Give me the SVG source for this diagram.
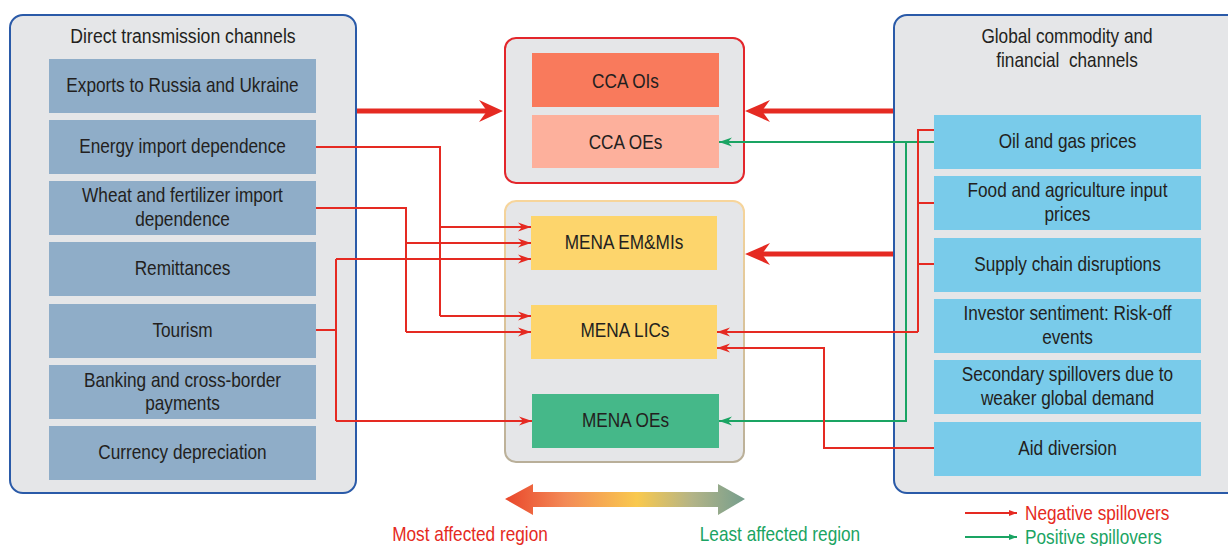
<svg xmlns="http://www.w3.org/2000/svg" width="1228" height="546" viewBox="0 0 1228 546">
<defs>
<style>
text{font-family:'Liberation Sans',Arial,sans-serif;font-size:21px;fill:#231f20;text-anchor:middle}
.panel{fill:#e5e6e8;stroke:#2a5aa8;stroke-width:2}
.lbox{fill:#8fadc8}
.rbox{fill:#79cbea}
.neg{fill:none;stroke:#e52a22;stroke-width:2}
.pos{fill:none;stroke:#1aa463;stroke-width:2}
.big{fill:none;stroke:#e52a22;stroke-width:5}
.head{fill:#e52a22}
.ar{marker-end:url(#ahr)}
.ag{marker-end:url(#ahg)}
.lr{marker-end:url(#lhr)}
.lg{marker-end:url(#lhg)}
</style>
<marker id="ahr" viewBox="0 0 13 10" refX="13" refY="5" markerWidth="13" markerHeight="10" markerUnits="userSpaceOnUse" orient="auto"><path d="M0,0.5 L13,5 L0,9.5 L4,5 Z" fill="#e52a22"/></marker>
<marker id="ahg" viewBox="0 0 13 10" refX="13" refY="5" markerWidth="13" markerHeight="10" markerUnits="userSpaceOnUse" orient="auto"><path d="M0,0.5 L13,5 L0,9.5 L4,5 Z" fill="#1aa463"/></marker>
<marker id="lhr" viewBox="0 0 8 6" refX="8" refY="3" markerWidth="8" markerHeight="6" markerUnits="userSpaceOnUse" orient="auto"><path d="M0,0 L8,3 L0,6 Z" fill="#e52a22"/></marker>
<marker id="lhg" viewBox="0 0 8 6" refX="8" refY="3" markerWidth="8" markerHeight="6" markerUnits="userSpaceOnUse" orient="auto"><path d="M0,0 L8,3 L0,6 Z" fill="#1aa463"/></marker>
<linearGradient id="menaStroke" x1="0" y1="0" x2="0" y2="1"><stop offset="0" stop-color="#f7d59b"/><stop offset="1" stop-color="#b9af99"/></linearGradient>
<linearGradient id="scale" gradientUnits="userSpaceOnUse" x1="505" y1="0" x2="745" y2="0"><stop offset="0" stop-color="#e9462a"/><stop offset="0.25" stop-color="#f38a57"/><stop offset="0.55" stop-color="#f9c94e"/><stop offset="0.78" stop-color="#b3b487"/><stop offset="1" stop-color="#769e8d"/></linearGradient>
</defs>
<rect width="1228" height="546" fill="#ffffff"/>

<g id="left-panel">
<rect class="panel" x="10" y="15" width="346" height="478" rx="13"/>
<text transform="translate(183,43) scale(0.84,1)">Direct transmission channels</text>
</g>
<g id="exports"><rect class="lbox" x="49" y="59" width="267" height="54"/><text transform="translate(182.5,92) scale(0.82,1)">Exports to Russia and Ukraine</text></g>
<g id="energy"><rect class="lbox" x="49" y="120" width="267" height="54"/><text transform="translate(182.5,153) scale(0.82,1)">Energy import dependence</text></g>
<g id="wheat"><rect class="lbox" x="49" y="181" width="267" height="54"/><text transform="translate(182.5,202) scale(0.82,1)">Wheat and fertilizer import</text><text transform="translate(182.5,226) scale(0.82,1)">dependence</text></g>
<g id="remittances"><rect class="lbox" x="49" y="242" width="267" height="54"/><text transform="translate(182.5,275) scale(0.82,1)">Remittances</text></g>
<g id="tourism"><rect class="lbox" x="49" y="304" width="267" height="54"/><text transform="translate(182.5,337) scale(0.82,1)">Tourism</text></g>
<g id="banking"><rect class="lbox" x="49" y="365" width="267" height="54"/><text transform="translate(182.5,387) scale(0.82,1)">Banking and cross-border</text><text transform="translate(182.5,410) scale(0.82,1)">payments</text></g>
<g id="currency"><rect class="lbox" x="49" y="426" width="267" height="54"/><text transform="translate(182.5,459) scale(0.82,1)">Currency depreciation</text></g>

<g id="cca-panel"><rect x="505" y="38" width="239" height="145" rx="11" fill="#e5e6e8" stroke="#e3262b" stroke-width="2"/></g>
<g id="cca-ois"><rect x="532" y="53" width="187" height="54" fill="#f97a5c"/><text transform="translate(625.5,88) scale(0.82,1)">CCA OIs</text></g>
<g id="cca-oes"><rect x="532" y="115" width="187" height="53" fill="#fdb09c"/><text transform="translate(625.5,149) scale(0.82,1)">CCA OEs</text></g>

<g id="mena-panel"><rect x="505" y="201" width="239" height="261" rx="11" fill="#e5e6e8" stroke="url(#menaStroke)" stroke-width="2"/></g>
<g id="mena-emmis"><rect x="531" y="216" width="186" height="54" fill="#fdd56c"/><text transform="translate(624,249) scale(0.82,1)">MENA EM&amp;MIs</text></g>
<g id="mena-lics"><rect x="531" y="305" width="186" height="54" fill="#fdd56c"/><text transform="translate(625,337) scale(0.82,1)">MENA LICs</text></g>
<g id="mena-oes"><rect x="532" y="394" width="187" height="54" fill="#45b889"/><text transform="translate(625.5,427) scale(0.82,1)">MENA OEs</text></g>

<g id="right-panel">
<rect class="panel" x="894" y="15" width="360" height="478" rx="13"/>
<text transform="translate(1067,43) scale(0.82,1)">Global commodity and</text>
<text transform="translate(1067,67) scale(0.82,1)" style="white-space:pre">financial  channels</text>
</g>
<g id="oil"><rect class="rbox" x="934" y="115" width="267" height="54"/><text transform="translate(1067.5,148) scale(0.82,1)">Oil and gas prices</text></g>
<g id="food"><rect class="rbox" x="934" y="176" width="267" height="54"/><text transform="translate(1067.5,197) scale(0.82,1)">Food and agriculture input</text><text transform="translate(1067.5,221) scale(0.82,1)">prices</text></g>
<g id="supply"><rect class="rbox" x="934" y="238" width="267" height="54"/><text transform="translate(1067.5,271) scale(0.82,1)">Supply chain disruptions</text></g>
<g id="investor"><rect class="rbox" x="934" y="299" width="267" height="54"/><text transform="translate(1067.5,320) scale(0.82,1)">Investor sentiment: Risk-off</text><text transform="translate(1067.5,344) scale(0.82,1)">events</text></g>
<g id="secondary"><rect class="rbox" x="934" y="360" width="267" height="54"/><text transform="translate(1067.5,381) scale(0.82,1)">Secondary spillovers due to</text><text transform="translate(1067.5,405) scale(0.82,1)">weaker global demand</text></g>
<g id="aid"><rect class="rbox" x="934" y="422" width="267" height="54"/><text transform="translate(1067.5,455) scale(0.82,1)">Aid diversion</text></g>

<g id="connectors">
<path class="big" d="M357,111 H489"/>
<path class="head" d="M503,111 L479,100 L487,111 L479,122 Z"/>
<path class="big" d="M893,111 H760"/>
<path class="head" d="M745,111 L770,100 L762,111 L770,122 Z"/>
<path class="big" d="M893,254 H760"/>
<path class="head" d="M745,254 L770,243 L762,254 L770,265 Z"/>

<path class="neg" d="M316,147 H440 V316"/>
<path class="neg ar" d="M440,316 H531"/>
<path class="neg ar" d="M440,227 H531"/>
<path class="neg" d="M316,208 H406 V332"/>
<path class="neg ar" d="M406,332 H531"/>
<path class="neg ar" d="M406,243 H531"/>
<path class="neg" d="M316,330 H336 M336,259 V421"/>
<path class="neg ar" d="M336,259 H531"/>
<path class="neg ar" d="M336,421 H532"/>

<path class="pos ag" d="M934,142 H719"/>
<path class="pos ag" d="M906,142 V421 H719"/>
<path class="neg" d="M934,130 H918 V332 M934,203 H918 M934,264 H918"/>
<path class="neg ar" d="M918,332 H717"/>
<path class="neg ar" d="M934,448 H824 V348 H717"/>
</g>

<g id="scale-arrow">
<path d="M505,499 L533,484 L533,492 L718,492 L718,484 L745,499 L718,515 L718,507 L533,507 L533,515 Z" fill="url(#scale)"/>
<text transform="translate(470,541) scale(0.82,1)" style="fill:#e52a22">Most affected region</text>
<text transform="translate(780,541) scale(0.82,1)" style="fill:#1aa463">Least affected region</text>
</g>

<g id="legend">
<path class="neg lr" d="M965,513 H1017"/>
<text transform="translate(1025,520) scale(0.82,1)" style="fill:#e52a22;text-anchor:start">Negative spillovers</text>
<path class="pos lg" d="M965,537 H1017"/>
<text transform="translate(1025,544) scale(0.82,1)" style="fill:#1aa463;text-anchor:start">Positive spillovers</text>
</g>
</svg>
